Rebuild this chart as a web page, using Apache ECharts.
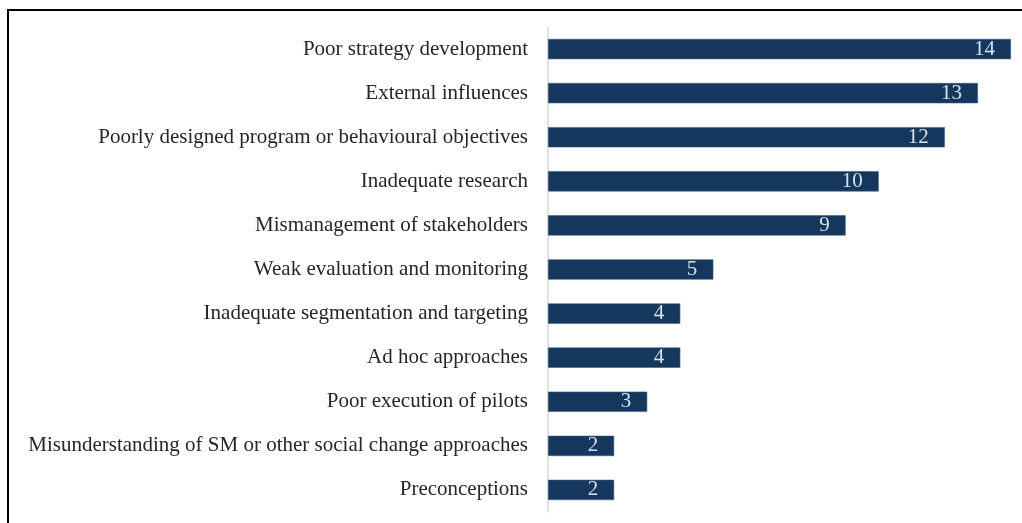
<!DOCTYPE html>
<html>
<head>
<meta charset="utf-8">
<script src="https://cdn.jsdelivr.net/npm/echarts@6/dist/echarts.min.js"></script>
<style>
html,body{margin:0;padding:0;background:#fff;}
#frame{position:absolute;left:7px;top:9px;width:1030px;height:530px;border-top:2px solid #000;border-left:2px solid #000;}
#chart{position:absolute;left:0;top:0;width:1022px;height:523px;}
</style>
</head>
<body>
<div id="frame"></div>
<div id="chart"></div>
<script>
const categories = [
  "Poor strategy development",
  "External influences",
  "Poorly designed program or behavioural objectives",
  "Inadequate research",
  "Mismanagement of stakeholders",
  "Weak evaluation and monitoring",
  "Inadequate segmentation and targeting",
  "Ad hoc approaches",
  "Poor execution of pilots",
  "Misunderstanding of SM or other social change approaches",
  "Preconceptions"
];
const values = [14, 13, 12, 10, 9, 5, 4, 4, 3, 2, 2];

const chart = echarts.init(document.getElementById('chart'));
chart.setOption({
  animation: false,
  grid: {left: 548, top: 27, width: 463, height: 485, containLabel: false},
  xAxis: {
    type: 'value', min: 0, max: 14, show: false
  },
  yAxis: {
    type: 'category',
    data: categories,
    inverse: true,
    axisLine: {show: true, lineStyle: {color: '#d9d9d9', width: 1.5}},
    axisTick: {show: false},
    axisLabel: {
      margin: 20,
      color: '#262626',
      fontFamily: '"Liberation Serif", "Times New Roman", serif',
      fontSize: 21
    }
  },
  series: [{
    type: 'bar',
    data: values,
    barCategoryGap: '54%',
    itemStyle: {color: '#15375D', borderColor: '#3f5f82', borderWidth: 0.6},
    label: {
      show: true,
      position: 'insideRight',
      distance: 16,
      color: '#d5e0ec',
      fontFamily: '"Liberation Serif", "Times New Roman", serif',
      fontSize: 21
    }
  }]
});
</script>
</body>
</html>
